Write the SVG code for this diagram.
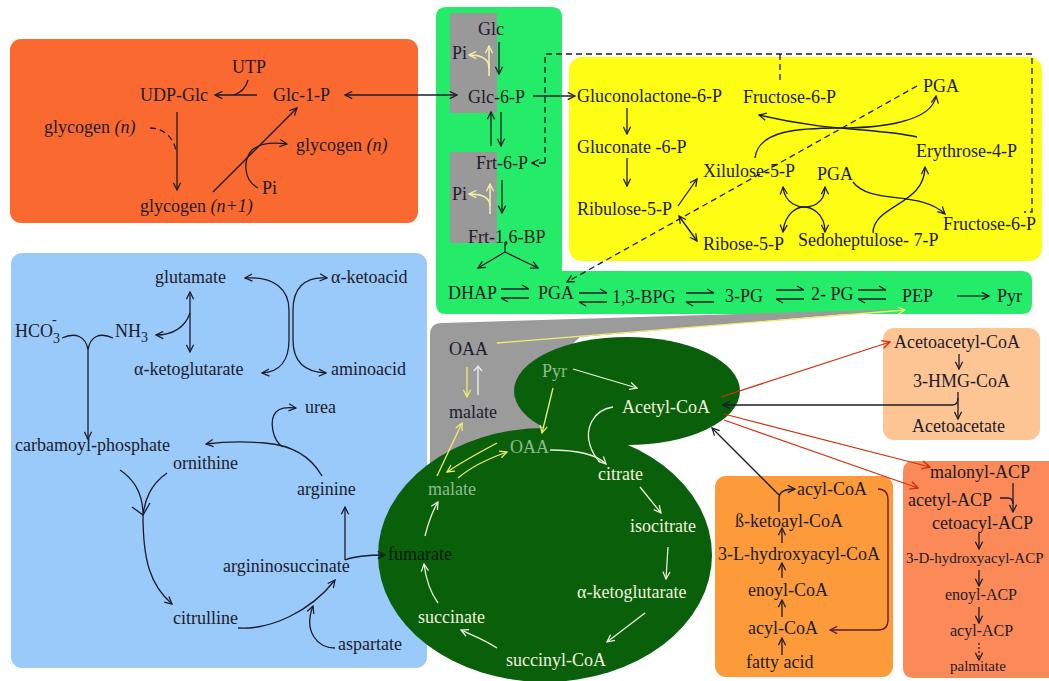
<svg xmlns="http://www.w3.org/2000/svg" width="1049" height="681" viewBox="0 0 1049 681">
  <style>
    text { font-family: "Liberation Serif", "Times New Roman", serif; font-size: 18px; fill: #1d1b2b; }
    .wt { fill: #f2f2de; }
    .gt { fill: #8fbb8f; }
    .ft { fill: #0d1a0d; }
    text.sm { font-size: 16px; }
    text.xs { font-size: 15px; }
    .k { fill: none; stroke: #1d1b2b; stroke-width: 1.3; }
    .kd { stroke-dasharray: 6 4; }
    .w { fill: none; stroke: #eef0dc; stroke-width: 1.3; }
    .y { fill: none; stroke: #eeee70; stroke-width: 1.3; }
    .py { fill: none; stroke: #f6f2a8; stroke-width: 1.5; }
    .r { fill: none; stroke: #d03010; stroke-width: 1.2; }
    .p { fill: none; stroke: #5a1a3a; stroke-width: 1.3; }
    .dot { stroke-dasharray: 2 2; }
  </style>
  <defs>
    <marker id="ak" viewBox="0 0 10 10" refX="9" refY="5" markerWidth="9" markerHeight="9" markerUnits="userSpaceOnUse" orient="auto-start-reverse">
      <path d="M1,1 L9,5 L1,9" fill="none" stroke="#1d1b2b" stroke-width="1.4"/>
    </marker>
    <marker id="aw" viewBox="0 0 10 10" refX="9" refY="5" markerWidth="9" markerHeight="9" markerUnits="userSpaceOnUse" orient="auto-start-reverse">
      <path d="M1,1 L9,5 L1,9" fill="none" stroke="#eef0dc" stroke-width="1.4"/>
    </marker>
    <marker id="ay" viewBox="0 0 10 10" refX="9" refY="5" markerWidth="9" markerHeight="9" markerUnits="userSpaceOnUse" orient="auto-start-reverse">
      <path d="M1,1 L9,5 L1,9" fill="none" stroke="#eeee70" stroke-width="1.4"/>
    </marker>
    <marker id="apy" viewBox="0 0 10 10" refX="9" refY="5" markerWidth="9" markerHeight="9" markerUnits="userSpaceOnUse" orient="auto-start-reverse">
      <path d="M1,1 L9,5 L1,9" fill="none" stroke="#f6f2a8" stroke-width="1.4"/>
    </marker>
    <marker id="ar" viewBox="0 0 10 10" refX="9" refY="5" markerWidth="10" markerHeight="10" markerUnits="userSpaceOnUse" orient="auto-start-reverse">
      <path d="M1,1 L9,5 L1,9" fill="none" stroke="#d03010" stroke-width="1.4"/>
    </marker>
    <marker id="ap" viewBox="0 0 10 10" refX="9" refY="5" markerWidth="9" markerHeight="9" markerUnits="userSpaceOnUse" orient="auto-start-reverse">
      <path d="M1,1 L9,5 L1,9" fill="none" stroke="#5a1a3a" stroke-width="1.4"/>
    </marker>
    <!-- reversible reaction: two half-barbed opposite arrows -->
    <g id="eq">
      <path class="k" d="M0,0 H28 M21,-4 L28,0 M0,9 H28 M7,13 L0,9"/>
    </g>
  </defs>

  <rect width="1049" height="681" fill="#ffffff"/>

  <!-- pathway compartments -->
  <g id="regions">
    <rect x="10" y="39" width="408" height="184" rx="11" fill="#fa6a30"/>
    <rect x="11" y="253" width="416" height="415" rx="11" fill="#9acafa"/>
    <path d="M446,7 H552 Q562,7 562,17 V271 H1022 Q1032,271 1032,281 V304 Q1032,314 1022,314 H446 Q436,314 436,304 V17 Q436,7 446,7 Z" fill="#24ec68"/>
    <rect x="450" y="13" width="47" height="100" fill="#9a999a"/>
    <rect x="450" y="152" width="47" height="91" fill="#9a999a"/>
    <rect x="569" y="57" width="473" height="204" rx="13" fill="#fefe14"/>
    <path d="M430,335 Q430,323 442,323 L905,309 L580,337 L545,370 L545,480 L430,480 Z" fill="#9b9b9b"/>
    <ellipse cx="545" cy="555" rx="167" ry="127" fill="#0a600a"/>
    <ellipse cx="627" cy="391" rx="113" ry="54" fill="#0a600a"/>
    <rect x="883" y="328" width="157" height="112" rx="11" fill="#fdc593"/>
    <rect x="715" y="476" width="178" height="201" rx="11" fill="#fd9b3b"/>
    <path d="M914,461 H1049 V678 H914 Q903,678 903,667 V472 Q903,461 914,461 Z" fill="#fb8a58"/>
  </g>

  <!-- connectors -->
  <g id="connectors">
    <!-- glycogen metabolism -->
    <path class="k" d="M257,95 H215" marker-end="url(#ak)"/>
    <path class="k" d="M248,80 C246,88 242,92 234,95"/>
    <path class="k kd" d="M150,128 C165,128 175,140 176,152"/>
    <path class="k" d="M177,112 V190" marker-end="url(#ak)"/>
    <path class="k" d="M213,192 L297,108" marker-end="url(#ak)"/>
    <path class="k" d="M258,188 C243,180 243,160 252,150 C260,143 272,142 287,144" marker-end="url(#ak)"/>
    <path class="k" d="M345,95 H457" marker-start="url(#ak)" marker-end="url(#ak)"/>

    <!-- glycolysis column -->
    <path class="py" d="M489,76 V46" marker-end="url(#apy)"/>
    <path class="py" d="M489,68 C489,58 481,55 469,55" marker-end="url(#apy)"/>
    <path class="k" d="M499,42 V74" marker-end="url(#ak)"/>
    <path class="k" d="M491,146 V112" marker-end="url(#ak)"/>
    <path class="k" d="M501,112 V146" marker-end="url(#ak)"/>
    <path class="py" d="M490,214 V184" marker-end="url(#apy)"/>
    <path class="py" d="M490,206 C490,197 482,194 469,194" marker-end="url(#apy)"/>
    <path class="k" d="M502,180 V213" marker-end="url(#ak)"/>
    <path class="k" d="M505,242 V252 L478,268" marker-end="url(#ak)"/>
    <path class="k" d="M505,252 L538,268" marker-end="url(#ak)"/>
    <use href="#eq" x="501" y="289"/>
    <use href="#eq" x="579" y="293"/>
    <use href="#eq" x="686" y="293"/>
    <use href="#eq" x="776" y="290"/>
    <use href="#eq" x="858" y="290"/>
    <path class="k" d="M957,296 H989" marker-end="url(#ak)"/>

    <!-- pentose phosphate pathway -->
    <path class="k" d="M533,96 H575" marker-end="url(#ak)"/>
    <path class="k kd" d="M545,163 V54 H1032 V212 H1024"/>
    <path class="k kd" d="M545,163 H532" marker-end="url(#ak)"/>
    <path class="k kd" d="M780,54 V80"/>
    <path class="k kd" d="M917,86 L567,282" marker-end="url(#ak)"/>
    <path class="k" d="M627,108 V134" marker-end="url(#ak)"/>
    <path class="k" d="M627,158 V186" marker-end="url(#ak)"/>
    <path class="k" d="M678,206 L697,179" marker-end="url(#ak)"/>
    <path class="k" d="M679,216 L697,241" marker-start="url(#ak)" marker-end="url(#ak)"/>
    <path class="k" d="M755,158 C758,130 800,128 840,128 C880,128 932,122 936,96" marker-end="url(#ak)"/>
    <path class="k" d="M917,137 C880,128 830,132 759,115" marker-end="url(#ak)"/>
    <path class="k" d="M783,187 C785,205 800,207 804,207 C810,207 825,205 825,187" marker-start="url(#ak)" marker-end="url(#ak)"/>
    <path class="k" d="M783,232 C785,212 798,207 804,207 C810,207 825,212 825,232" marker-start="url(#ak)" marker-end="url(#ak)"/>
    <path class="k" d="M853,182 C870,205 920,190 945,214" marker-end="url(#ak)"/>
    <path class="k" d="M873,233 C873,205 925,205 925,167" marker-end="url(#ak)"/>

    <!-- shuttle and citric acid cycle -->
    <path class="y" d="M497,343 L905,310" marker-end="url(#ay)"/>
    <path class="y" d="M467,367 V397" marker-end="url(#ay)"/>
    <path fill="none" stroke="#e6e6f4" stroke-width="1.5" d="M478,395 V366"/>
    <path fill="none" stroke="#e6e6f4" stroke-width="1.4" d="M474,371 L478,366 L482,371"/>
    <path class="w" d="M573,369 L637,388" marker-end="url(#aw)"/>
    <path class="y" d="M553,388 L542,433" marker-end="url(#ay)"/>
    <path class="w" d="M613,407 C592,410 585,430 590,445 C592,452 596,458 600,462"/>
    <path class="w" d="M550,450 C575,450 595,453 606,464" marker-end="url(#aw)"/>
    <path class="w" d="M640,487 L661,513" marker-end="url(#aw)"/>
    <path class="w" d="M668,547 L666,579" marker-end="url(#aw)"/>
    <path class="w" d="M645,613 L607,642" marker-end="url(#aw)"/>
    <path class="w" d="M497,648 C485,640 472,635 461,630" marker-end="url(#aw)"/>
    <path class="w" d="M438,603 C430,592 426,580 424,564" marker-end="url(#aw)"/>
    <path class="w" d="M425,536 C428,524 432,512 438,502" marker-end="url(#aw)"/>
    <path class="y" d="M437,476 L462,423" marker-end="url(#ay)"/>
    <path class="y" d="M497,443 C480,452 462,462 447,472" marker-end="url(#ay)"/>
    <path class="y" d="M458,478 C472,466 490,458 507,452" marker-end="url(#ay)"/>

    <!-- acetyl-CoA branches -->
    <path class="r" d="M721,397 L890,342" marker-end="url(#ar)"/>
    <path class="k" d="M958,398 C958,403 956,405 952,405 H723" marker-end="url(#ak)"/>
    <path class="r" d="M724,414 L930,467" marker-end="url(#ar)"/>
    <path class="r" d="M724,420 L918,488" marker-end="url(#ar)"/>
    <path class="k" d="M779,495 L712,428" marker-end="url(#ak)"/>

    <!-- ketone bodies -->
    <path class="k" d="M959,354 V369" marker-end="url(#ak)"/>
    <path class="k" d="M958,392 V419" marker-end="url(#ak)"/>

    <!-- beta oxidation -->
    <path class="k" d="M782,655 V638" marker-end="url(#ak)"/>
    <path class="k" d="M782,617 V600" marker-end="url(#ak)"/>
    <path class="k" d="M782,578 V563" marker-end="url(#ak)"/>
    <path class="k" d="M782,543 V528" marker-end="url(#ak)"/>
    <path class="k" d="M779,512 V498 C779,492 784,489 795,489" marker-end="url(#ak)"/>
    <path class="p" d="M878,489 C885,489 888,493 888,500 V620 C888,627 884,630 878,630 H830" marker-end="url(#ap)"/>

    <!-- fatty acid synthesis -->
    <path class="k" d="M1013,483 V512" marker-end="url(#ak)"/>
    <path class="k" d="M1000,498 H1008 C1011,498 1013,500 1013,504"/>
    <path class="k" d="M979,533 V549" marker-end="url(#ak)"/>
    <path class="k" d="M979,570 V586" marker-end="url(#ak)"/>
    <path class="k" d="M979,607 V623" marker-end="url(#ak)"/>
    <path class="k dot" d="M979,643 V660" marker-end="url(#ak)"/>

    <!-- amino acids and urea cycle -->
    <path class="k" d="M190,292 V352" marker-start="url(#ak)" marker-end="url(#ak)"/>
    <path class="k" d="M190,313 C185,328 172,335 156,335" marker-end="url(#ak)"/>
    <path class="k" d="M245,278 C275,276 289,290 289,310 V340 C289,360 280,372 262,373" marker-start="url(#ak)" marker-end="url(#ak)"/>
    <path class="k" d="M327,278 C303,276 293,290 293,310 V340 C293,360 303,372 326,373" marker-start="url(#ak)" marker-end="url(#ak)"/>
    <path class="k" d="M62,338 C75,332 86,336 88,350 M113,338 C100,332 90,336 88,350"/>
    <path class="k" d="M88,350 V439" marker-end="url(#ak)"/>
    <path class="k" d="M322,476 C310,455 290,445 265,443 C240,441 222,442 206,444" marker-end="url(#ak)"/>
    <path class="k" d="M283,447 C272,440 269,420 276,412 C280,408 285,407 296,408" marker-end="url(#ak)"/>
    <path class="k" d="M120,470 C135,480 143,495 143,515 M167,473 C150,485 145,500 143,515"/>
    <path class="k" d="M143,515 C143,560 150,585 172,604" marker-end="url(#ak)"/>
    <path class="k" d="M132,507 L143,515 L150,503"/>
    <path class="k" d="M238,628 C270,630 310,612 335,580" marker-end="url(#ak)"/>
    <path class="k" d="M335,648 C318,648 303,632 313,606" marker-end="url(#ak)"/>
    <path class="k" d="M345,560 V507" marker-end="url(#ak)"/>
    <path class="k" d="M345,560 C355,556 366,555 385,555" marker-end="url(#ak)"/>
  </g>

  <!-- glycogen -->
  <g id="glycogen">
    <text x="232" y="73">UTP</text>
    <text x="140" y="101">UDP-Glc</text>
    <text x="273" y="101">Glc-1-P</text>
    <text x="44" y="133">glycogen <tspan font-style="italic">(n)</tspan></text>
    <text x="296" y="151">glycogen <tspan font-style="italic">(n)</tspan></text>
    <text x="140" y="212">glycogen <tspan font-style="italic">(n+1)</tspan></text>
    <text x="262" y="194">Pi</text>
  </g>

  <!-- glycolysis -->
  <g id="glycolysis">
    <text x="478" y="35">Glc</text>
    <text x="452" y="59">Pi</text>
    <text x="468" y="103">Glc-6-P</text>
    <text x="476" y="169">Frt-6-P</text>
    <text x="452" y="200">Pi</text>
    <text x="468" y="243">Frt-1,6-BP</text>
    <text x="448" y="299">DHAP</text>
    <text x="538" y="299">PGA</text>
    <text x="612" y="303">1,3-BPG</text>
    <text x="725" y="302">3-PG</text>
    <text x="811" y="300">2- PG</text>
    <text x="902" y="302">PEP</text>
    <text x="997" y="302">Pyr</text>
  </g>

  <!-- pentose phosphate pathway -->
  <g id="pentose-phosphate">
    <text x="577" y="102">Gluconolactone-6-P</text>
    <text x="577" y="153">Gluconate -6-P</text>
    <text x="577" y="215">Ribulose-5-P</text>
    <text x="703" y="177">Xilulose-5-P</text>
    <text x="703" y="250">Ribose-5-P</text>
    <text x="743" y="103">Fructose-6-P</text>
    <text x="923" y="92">PGA</text>
    <text x="916" y="157">Erythrose-4-P</text>
    <text x="817" y="180">PGA</text>
    <text x="798" y="246">Sedoheptulose- 7-P</text>
    <text x="943" y="230">Fructose-6-P</text>
  </g>

  <!-- malate shuttle -->
  <g id="shuttle">
    <text x="449" y="355">OAA</text>
    <text x="449" y="418">malate</text>
  </g>

  <!-- citric acid cycle -->
  <g id="citric-acid-cycle">
    <text class="gt" x="542" y="377">Pyr</text>
    <text class="wt" x="622" y="413">Acetyl-CoA</text>
    <text class="gt" x="510" y="453">OAA</text>
    <text class="wt" x="598" y="480">citrate</text>
    <text class="wt" x="630" y="532">isocitrate</text>
    <text class="wt" x="577" y="598">α-ketoglutarate</text>
    <text class="wt" x="506" y="666">succinyl-CoA</text>
    <text class="wt" x="418" y="623">succinate</text>
    <text class="ft" x="388" y="560">fumarate</text>
    <text class="gt" x="428" y="495">malate</text>
  </g>

  <!-- ketone bodies -->
  <g id="ketogenesis">
    <text x="894" y="348">Acetoacetyl-CoA</text>
    <text x="913" y="387">3-HMG-CoA</text>
    <text x="912" y="432">Acetoacetate</text>
  </g>

  <!-- beta oxidation -->
  <g id="beta-oxidation">
    <text x="797" y="495">acyl-CoA</text>
    <text x="735" y="527">ß-ketoayl-CoA</text>
    <text x="718" y="560">3-L-hydroxyacyl-CoA</text>
    <text x="748" y="596">enoyl-CoA</text>
    <text x="748" y="634">acyl-CoA</text>
    <text x="746" y="668">fatty acid</text>
  </g>

  <!-- fatty acid synthesis -->
  <g id="fatty-acid-synthesis">
    <text x="930" y="478">malonyl-ACP</text>
    <text x="908" y="506">acetyl-ACP</text>
    <text x="932" y="529">cetoacyl-ACP</text>
    <text class="xs" x="906" y="563">3-D-hydroxyacyl-ACP</text>
    <text class="sm" x="945" y="600">enoyl-ACP</text>
    <text class="sm" x="950" y="636">acyl-ACP</text>
    <text class="xs" x="950" y="671">palmitate</text>
  </g>

  <!-- amino acids and urea cycle -->
  <g id="urea-cycle">
    <text x="155" y="283">glutamate</text>
    <text x="331" y="283">α-ketoacid</text>
    <text x="15" y="337">HCO<tspan dy="6" font-size="14">3</tspan><tspan dx="-8" dy="-19" font-size="14">-</tspan></text>
    <text x="115" y="337">NH<tspan dy="5" font-size="14">3</tspan></text>
    <text x="134" y="375">α-ketoglutarate</text>
    <text x="331" y="375">aminoacid</text>
    <text x="305" y="413">urea</text>
    <text x="15" y="451">carbamoyl-phosphate</text>
    <text x="173" y="469">ornithine</text>
    <text x="297" y="495">arginine</text>
    <text x="223" y="572">argininosuccinate</text>
    <text x="173" y="624">citrulline</text>
    <text x="338" y="650">aspartate</text>
  </g>
</svg>
